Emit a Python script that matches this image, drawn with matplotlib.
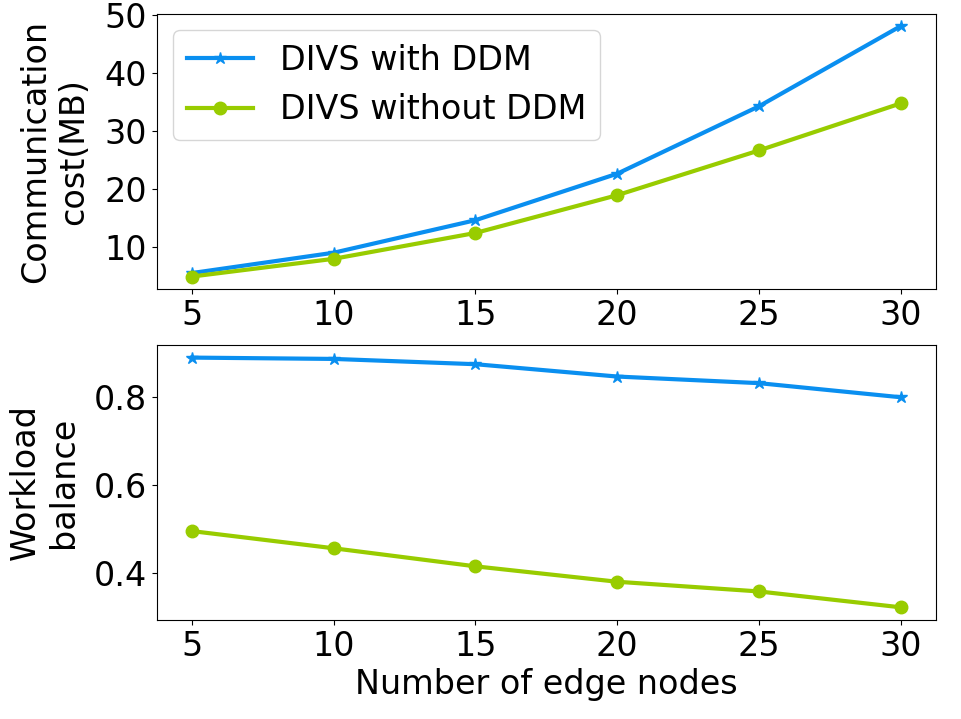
import matplotlib
matplotlib.use("Agg")
import matplotlib.pyplot as plt

nodes = [5, 10, 15, 20, 25, 30]
cost_with = [5.6, 9.1, 14.7, 22.7, 34.3, 48.1]
cost_without = [5.0, 8.05, 12.5, 19.0, 26.7, 34.8]
balance_with = [0.890, 0.887, 0.875, 0.847, 0.832, 0.800]
balance_without = [0.496, 0.457, 0.416, 0.381, 0.359, 0.323]

blue = "#0a8ff0"
green = "#98cc00"

plt.rcParams["font.size"] = 24

fig = plt.figure(figsize=(9.61, 7.19), dpi=100)
ax1 = fig.add_axes([0.163, 0.598, 0.811, 0.383])
ax2 = fig.add_axes([0.163, 0.138, 0.811, 0.382])

ax1.plot(nodes, cost_with, color=blue, lw=3, marker="*", ms=9, label="DIVS with DDM")
ax1.plot(nodes, cost_without, color=green, lw=3, marker="o", ms=9, label="DIVS without DDM")
ax1.set_ylabel("Communication\ncost(MB)", labelpad=10)
ax1.set_xticks(nodes)
ax1.set_yticks([10, 20, 30, 40, 50])
ax1.legend(loc="upper left")

ax2.plot(nodes, balance_with, color=blue, lw=3, marker="*", ms=9)
ax2.plot(nodes, balance_without, color=green, lw=3, marker="o", ms=9)
ax2.set_ylabel("Workload\nbalance", labelpad=10)
ax2.set_xlabel("Number of edge nodes")
ax2.set_xticks(nodes)
ax2.set_yticks([0.4, 0.6, 0.8])

fig.savefig("out.png", dpi=100)
